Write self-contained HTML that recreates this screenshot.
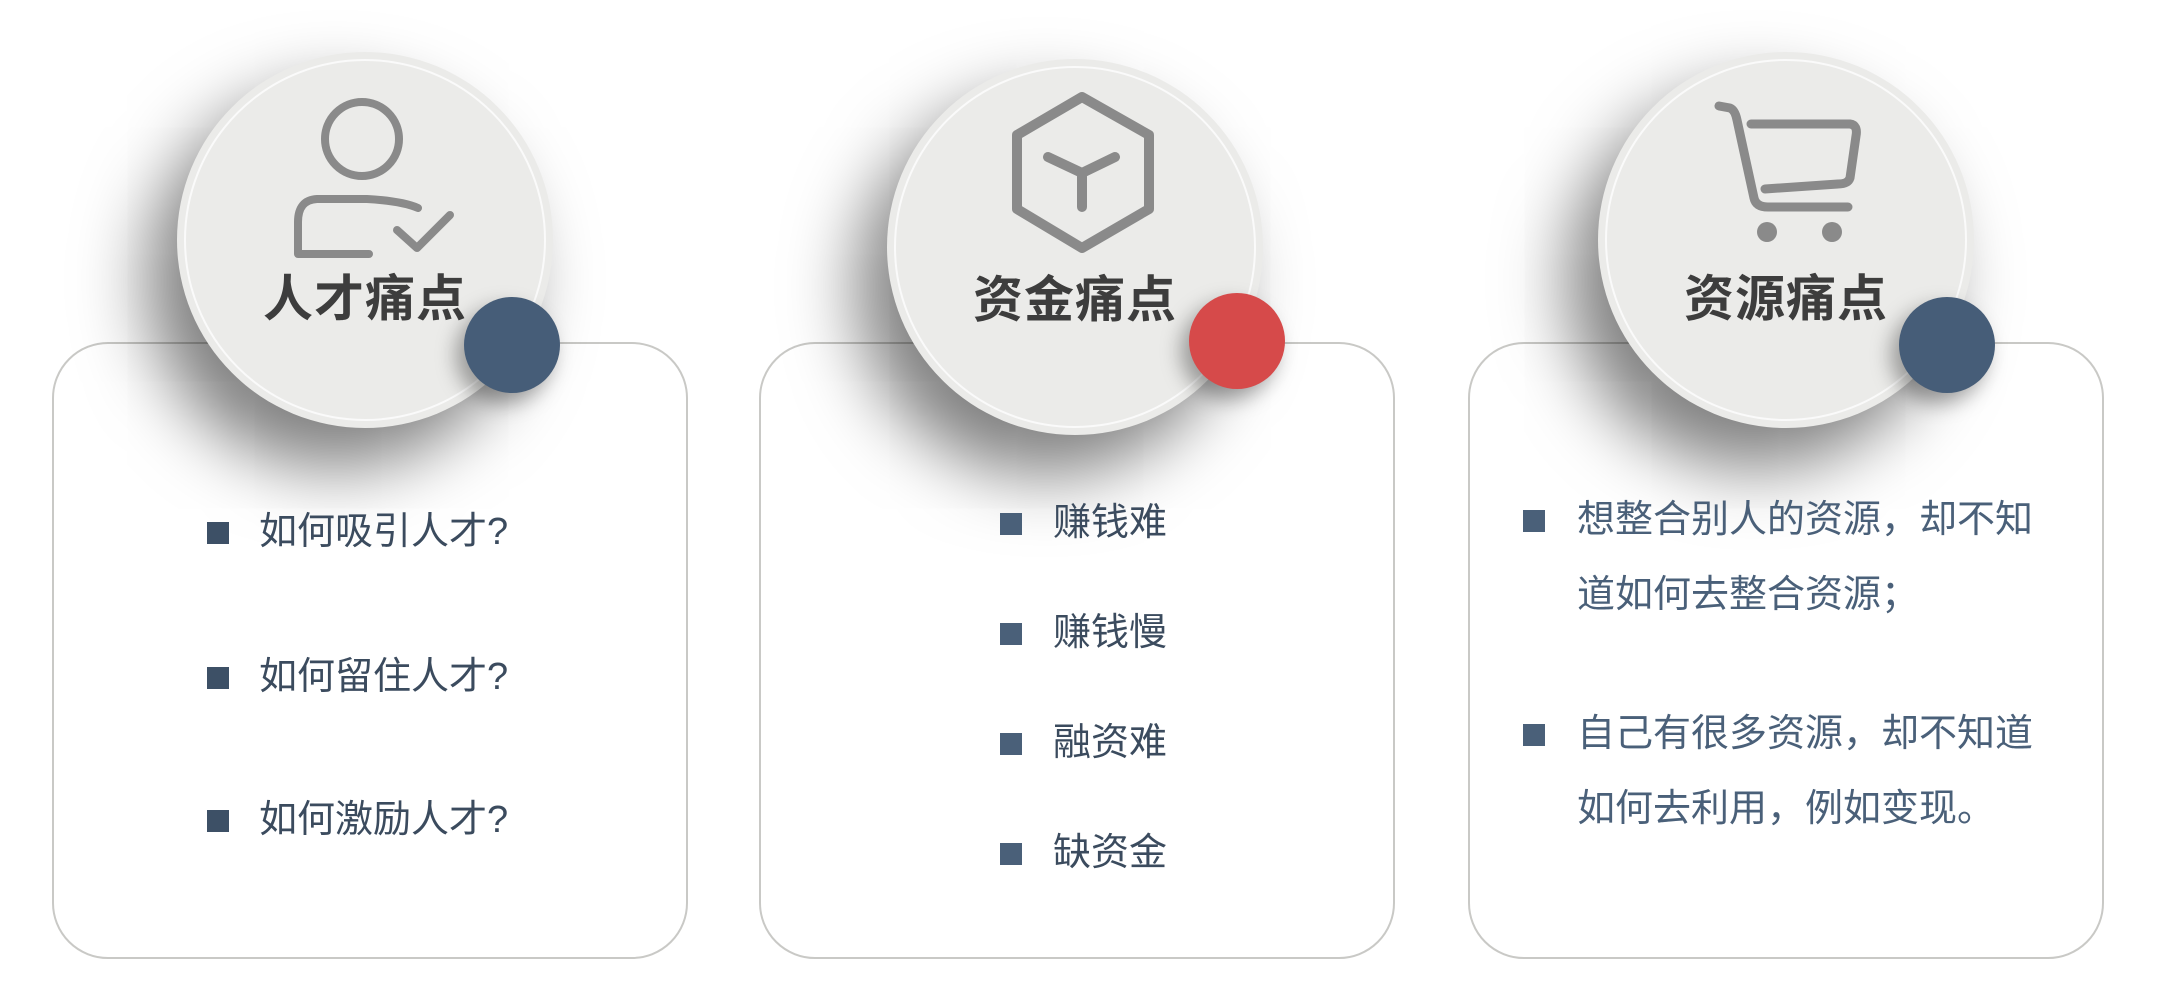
<!DOCTYPE html>
<html><head><meta charset="utf-8"><style>
body{margin:0;width:2159px;height:1003px;background:#fff;position:relative;overflow:hidden;font-family:"Liberation Sans","Noto Sans CJK SC",sans-serif}
.card{position:absolute;top:342px;width:636px;height:617px;border:2px solid #c9c9c6;border-radius:56px;background:#fff;box-sizing:border-box}
.circ{position:absolute;width:376px;height:376px;border-radius:50%;background:#ebebe9;box-shadow:-30px 40px 70px rgba(0,0,0,0.5);}
.circ:after{content:"";position:absolute;left:7px;top:7px;right:7px;bottom:7px;border-radius:50%;border:2px solid #fafafa}
.title{position:absolute;left:0;width:376px;top:218px;line-height:58px;text-align:center;font-size:50px;font-weight:bold;color:#3d3d3d;letter-spacing:1px}
.dot{position:absolute;width:96px;height:96px;border-radius:50%;background:#465d78;box-shadow:-8px 10px 20px rgba(0,0,0,0.35)}
.b{position:absolute;font-size:38px;color:#3b4b5e;line-height:75px;white-space:nowrap}
.sq{position:absolute;width:22px;height:22px;background:#3d5066}
</style></head><body>
<div class="card" style="left:52px"></div>
<div class="card" style="left:759px"></div>
<div class="card" style="left:1468px"></div>

<div class="circ" style="left:177px;top:52px">
<svg style="position:absolute;left:0;top:0" width="376" height="376"><g fill="none" stroke="#8a8a8a" stroke-width="8" stroke-linecap="round" stroke-linejoin="round"><circle cx="185" cy="87" r="37"/><path d="M241 156 Q225 149 190 147 L140 147 Q121 148 121 170 L121 202 L192 202"/><path d="M220 178 L240 196 L273 163"/></g></svg>
<div class="title">人才痛点</div></div>
<div class="circ" style="left:887px;top:59px">
<svg style="position:absolute;left:0;top:0" width="376" height="376"><g fill="none" stroke="#8a8a8a" stroke-width="10" stroke-linecap="round" stroke-linejoin="round"><path d="M195 38 L262 76 L262 150 L195 189 L130 150 L130 76 Z"/><path d="M161 98 L195 114 L228 98 M195 114 L195 148"/></g></svg>
<div class="title" style="top:212px">资金痛点</div></div>
<div class="circ" style="left:1598px;top:52px">
<svg style="position:absolute;left:0;top:0" width="376" height="376"><g fill="none" stroke="#8a8a8a" stroke-width="9" stroke-linecap="round" stroke-linejoin="round"><path d="M121 54 L132 56 Q137 58 139 68 L156 146 Q158 155 170 155 L250 155"/><path d="M153 72 L252 72 Q260 73 258 84 L252 126 Q250 132 240 132 L167 137"/></g><circle cx="169" cy="180" r="10" fill="#8a8a8a"/><circle cx="234" cy="180" r="10" fill="#8a8a8a"/></svg>
<div class="title">资源痛点</div></div>

<div class="dot" style="left:464px;top:297px"></div>
<div class="dot" style="left:1189px;top:293px;background:#d64a4a"></div>
<div class="dot" style="left:1899px;top:297px"></div>

<div class="sq" style="left:207px;top:522px"></div><div class="b" style="left:259px;top:495px">如何吸引人才?</div>
<div class="sq" style="left:207px;top:667px"></div><div class="b" style="left:259px;top:640px">如何留住人才?</div>
<div class="sq" style="left:207px;top:810px"></div><div class="b" style="left:259px;top:783px">如何激励人才?</div>

<div class="sq" style="left:1000px;top:513px;background:#4a6079"></div><div class="b" style="left:1053px;top:486px">赚钱难</div>
<div class="sq" style="left:1000px;top:623px;background:#4a6079"></div><div class="b" style="left:1053px;top:596px">赚钱慢</div>
<div class="sq" style="left:1000px;top:733px;background:#4a6079"></div><div class="b" style="left:1053px;top:706px">融资难</div>
<div class="sq" style="left:1000px;top:843px;background:#4a6079"></div><div class="b" style="left:1053px;top:816px">缺资金</div>

<div class="sq" style="left:1523px;top:510px;background:#4a6079"></div><div class="b" style="left:1577px;top:483px;color:#4a6079">想整合别人的资源，却不知<br>道如何去整合资源；</div>
<div class="sq" style="left:1523px;top:724px;background:#4a6079"></div><div class="b" style="left:1577px;top:697px;color:#4a6079">自己有很多资源，却不知道<br>如何去利用，例如变现。</div>
</body></html>
